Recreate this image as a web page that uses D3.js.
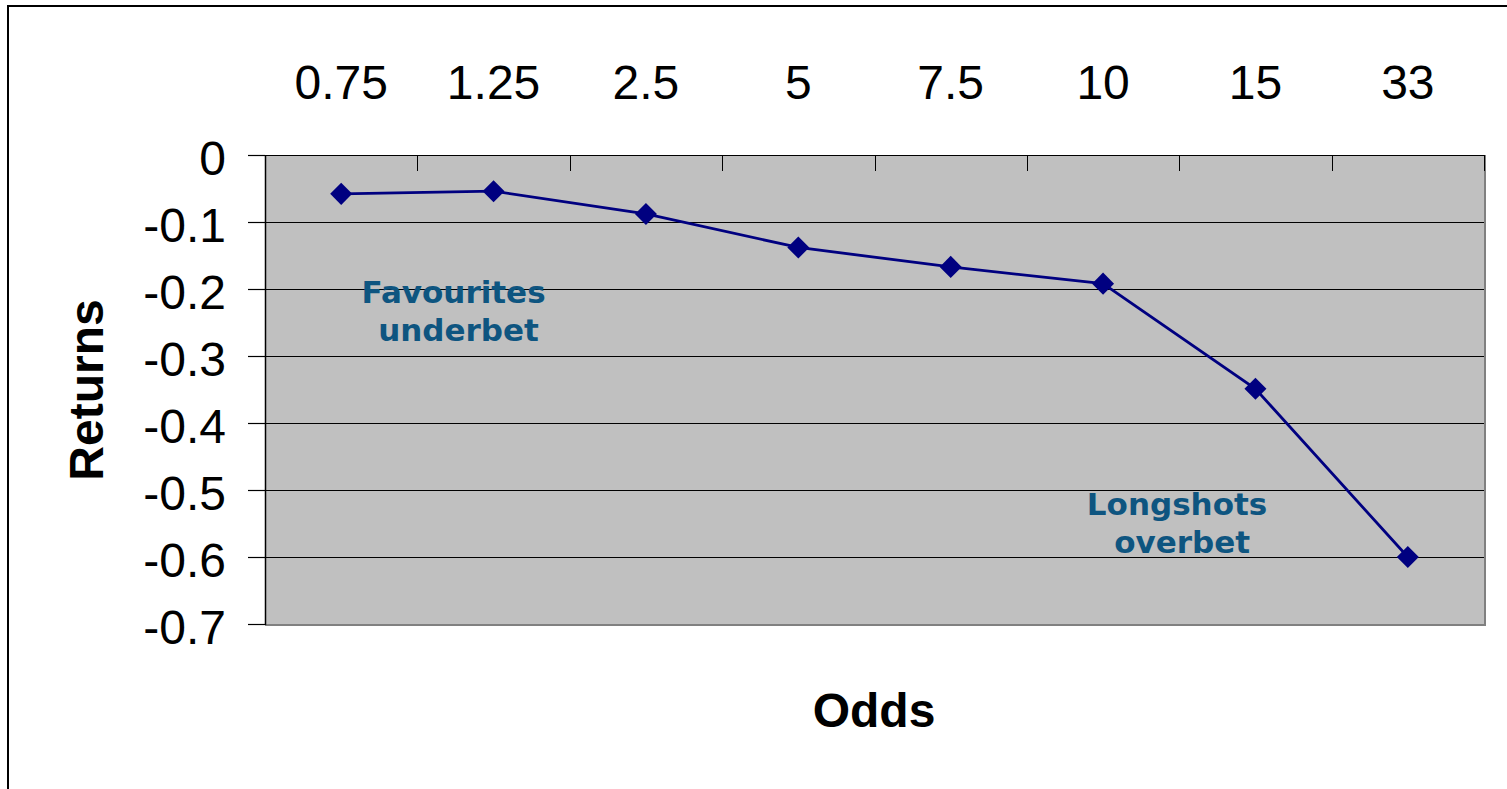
<!DOCTYPE html>
<html>
<head>
<meta charset="utf-8">
<script src="https://cdn.jsdelivr.net/npm/d3@7"></script>
<style>
  html, body { margin: 0; padding: 0; background: #fff; }
  svg { display: block; }
</style>
</head>
<body>
<svg id="chart" width="1507" height="789"></svg>
<script>
const categories = ["0.75", "1.25", "2.5", "5", "7.5", "10", "15", "33"];
const returns = [-0.058, -0.054, -0.088, -0.138, -0.167, -0.192, -0.349, -0.6];
const yTicks = [0, -0.1, -0.2, -0.3, -0.4, -0.5, -0.6, -0.7];
const annotations = [
  { lines: ["Favourites", "underbet"], cat: "1.25", val: -0.221, shift: -40 },
  { lines: ["Longshots", "overbet"], cat: "10", val: -0.537, shift: 74 }
];

const svg = d3.select("#chart");
const plot = { left: 265, right: 1484, top: 155, bottom: 624 };

// outer frame
svg.append("rect").attr("x", 8).attr("y", 6).attr("width", 1520).attr("height", 800)
  .attr("fill", "none").attr("stroke", "#000").attr("stroke-width", 2);

const x = d3.scaleBand().domain(categories).range([plot.left, plot.right]).padding(0);
const y = d3.scaleLinear().domain([-0.7, 0]).range([plot.bottom, plot.top]);

// plot background with shadow
svg.append("rect").attr("x", plot.left).attr("y", plot.top)
  .attr("width", plot.right - plot.left + 2).attr("height", plot.bottom - plot.top + 2)
  .attr("fill", "#808080");
svg.append("rect").attr("x", plot.left).attr("y", plot.top)
  .attr("width", plot.right - plot.left).attr("height", plot.bottom - plot.top)
  .attr("fill", "#C0C0C0");

// gridlines
svg.append("g").selectAll("line").data(yTicks.slice(0, -1)).join("line")
  .attr("x1", plot.left).attr("x2", plot.right)
  .attr("y1", d => Math.round(y(d)) + 0.5).attr("y2", d => Math.round(y(d)) + 0.5)
  .attr("stroke", "#000").attr("stroke-width", 1);

// left plot border
svg.append("line").attr("x1", plot.left + 0.5).attr("x2", plot.left + 0.5)
  .attr("y1", plot.top).attr("y2", plot.bottom + 1)
  .attr("stroke", "#000").attr("stroke-width", 1.5);

// top category boundary ticks (inside)
const bounds = categories.map(c => x(c)).concat([x.range()[1]]);
svg.append("g").selectAll("line").data(bounds.slice(1)).join("line")
  .attr("x1", d => Math.round(d) + 0.5).attr("x2", d => Math.round(d) + 0.5)
  .attr("y1", plot.top).attr("y2", plot.top + 16)
  .attr("stroke", "#000").attr("stroke-width", 1);

// x axis (top)
const xAxis = d3.axisTop(x).tickSize(0).tickPadding(56);
const gx = svg.append("g").attr("transform", `translate(0,${plot.top})`).call(xAxis);
gx.select(".domain").remove();
gx.selectAll("text").attr("font-family", "'Liberation Sans', Arial, sans-serif")
  .attr("font-size", 48).attr("fill", "#000");

// y axis (left)
const yAxis = d3.axisLeft(y).tickValues(yTicks).tickSize(17).tickPadding(22)
  .tickFormat(d => d === 0 ? "0" : "-" + Math.abs(d).toString());
const gy = svg.append("g").attr("transform", `translate(${plot.left},0)`).call(yAxis);
gy.select(".domain").remove();
gy.selectAll(".tick line").attr("stroke", "#000").attr("stroke-width", 1.2);
gy.selectAll("text").attr("font-family", "'Liberation Sans', Arial, sans-serif")
  .attr("font-size", 48).attr("fill", "#000").attr("dy", "0.4em");

// axis titles
svg.append("text").attr("transform", "translate(103,390) rotate(-90)")
  .attr("text-anchor", "middle").attr("font-family", "'Liberation Sans', Arial, sans-serif")
  .attr("font-weight", "bold").attr("font-size", 48).text("Returns");
svg.append("text").attr("x", 874).attr("y", 727)
  .attr("text-anchor", "middle").attr("font-family", "'Liberation Sans', Arial, sans-serif")
  .attr("font-weight", "bold").attr("font-size", 48).text("Odds");

// line
const cx = d => x(d) + x.bandwidth() / 2;
const line = d3.line().x((d, i) => cx(categories[i])).y(d => y(d));
svg.append("path").datum(returns).attr("d", line)
  .attr("fill", "none").attr("stroke", "#000080").attr("stroke-width", 2.8);

// markers
const sym = d3.symbol().type(d3.symbolDiamond2).size(310);
svg.append("g").selectAll("path").data(returns).join("path")
  .attr("transform", (d, i) => `translate(${cx(categories[i])},${y(d)})`)
  .attr("d", sym).attr("fill", "#000080");

// annotations
annotations.forEach(a => {
  const t = svg.append("text").attr("text-anchor", "middle")
    .attr("font-family", "'DejaVu Sans', Verdana, sans-serif")
    .attr("font-weight", "bold").attr("font-size", 31).attr("fill", "#0E5580");
  a.lines.forEach((l, i) => {
    t.append("tspan").attr("x", cx(a.cat) + a.shift + (i ? 5 : 0))
      .attr("y", y(a.val) + i * 38).text(l);
  });
});
</script>
</body>
</html>
